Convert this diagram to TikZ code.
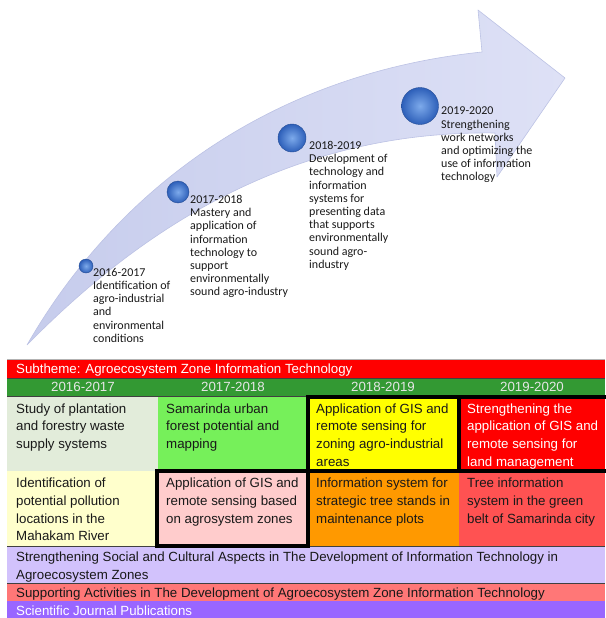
\documentclass[tikz,border=0pt]{standalone}
\usepackage{fontspec}
\setmainfont{Liberation Sans}
\newfontfamily\calfont{Carlito}
\definecolor{arrowL}{RGB}{198,204,236}
\definecolor{arrowR}{RGB}{222,225,246}
\definecolor{arrowE}{RGB}{188,194,228}
\definecolor{ballin}{RGB}{125,170,235}
\definecolor{ballout}{RGB}{45,95,185}
\definecolor{subred}{RGB}{255,0,0}
\definecolor{hdrgreen}{RGB}{51,153,51}
\definecolor{hdrtext}{RGB}{230,230,230}
\definecolor{cA}{RGB}{226,236,218}
\definecolor{cB}{RGB}{118,240,90}
\definecolor{cC}{RGB}{255,255,0}
\definecolor{cD}{RGB}{255,0,0}
\definecolor{cE}{RGB}{255,255,204}
\definecolor{cF}{RGB}{255,204,204}
\definecolor{cG}{RGB}{255,153,0}
\definecolor{cH}{RGB}{255,82,82}
\definecolor{lav}{RGB}{210,194,252}
\definecolor{salmon}{RGB}{255,119,119}
\definecolor{purp}{RGB}{153,102,255}
\definecolor{txt}{RGB}{25,25,25}
\begin{document}
\begin{tikzpicture}[x=1pt,y=-1pt,
  lbl/.style={anchor=north west, inner sep=0pt, align=left, text=txt,
    font=\calfont\fontsize{12}{13.2}\selectfont},
  cell/.style={anchor=north west, inner sep=0pt, align=left, text=txt,
    font=\fontsize{13.3}{17.6}\selectfont},
  hdr/.style={anchor=base, inner sep=0pt, text=hdrtext,
    font=\fontsize{13.3}{17.6}\selectfont},
  bar/.style={anchor=base west, inner sep=0pt, text=txt,
    font=\fontsize{13.3}{17.6}\selectfont},
  ballnode/.style={circle, inner sep=0pt, inner color=ballin, outer color=ballout,
    draw=ballout!80!black, line width=0.4pt},
  thickb/.style={draw=black, line width=3.2pt},
  thinl/.style={draw=black!75, line width=0.8pt}
]
\useasboundingbox (0,0) rectangle (605,618);

% ---- curved arrow ----
\path[left color=arrowL, right color=arrowR, draw=arrowE, line width=0.6pt, line join=round]
  (27,345) .. controls (110,200) and (260,75) .. (482,52)
  -- (478,10) -- (565,78) -- (497,177) -- (495,133)
  .. controls (290,130) and (140,230) .. (27,345) -- cycle;

% ---- balls ----
\node[ballnode, minimum size=14pt] (b1) at (86,266) {};
\node[ballnode, minimum size=22pt] (b2) at (178,192) {};
\node[ballnode, minimum size=28pt] (b3) at (292,138) {};
\node[ballnode, minimum size=37pt] (b4) at (420,106) {};

% ---- timeline labels ----
\node[lbl] (t1) at (93,268) {2016-2017\\Identification of\\agro-industrial\\and\\environmental\\conditions};
\node[lbl] (t2) at (190,195) {2017-2018\\Mastery and\\application of\\information\\technology to\\support\\environmentally\\sound agro-industry};
\node[lbl] (t3) at (309,141) {2018-2019\\Development of\\technology and\\information\\systems for\\presenting data\\that supports\\environmentally\\sound agro-\\industry};
\node[lbl] (t4) at (441,107) {2019-2020\\Strengthening\\work networks\\and optimizing the\\use of information\\technology};

% ---- table ----
\draw[draw=black!30, line width=0.8pt] (7,359) -- (605,359);
\fill[subred] (7,360) rectangle (605,378);
\fill[hdrgreen] (7,378) rectangle (605,397);
\fill[cA] (7,397) rectangle (158,471);
\fill[cB] (158,397) rectangle (308,471);
\fill[cC] (308,397) rectangle (459,471);
\fill[cD] (459,397) rectangle (605,471);
\fill[cE] (7,471) rectangle (158,546);
\fill[cF] (158,471) rectangle (308,546);
\fill[cG] (308,471) rectangle (459,546);
\fill[cH] (459,471) rectangle (605,546);
\fill[lav] (7,546) rectangle (605,583);
\fill[salmon] (7,583) rectangle (605,601);
\fill[purp] (7,601) rectangle (605,618);

\draw[thinl] (7,378) -- (605,378);
\draw[thinl] (7,396.5) -- (605,396.5);
\draw[thinl] (7,546) -- (605,546);
\draw[thinl] (7,583.5) -- (605,583.5);

\draw[thickb] (308,397) rectangle (459,471);
\draw[thickb] (459,397) rectangle (608,471);
\draw[thickb] (157,471) rectangle (308,546);

\node[bar, text=white] (sub) at (16,373.7) {Subtheme: Agroecosystem Zone Information Technology};
\node[hdr] (h1) at (83,391.7) {2016-2017};
\node[hdr] (h2) at (233,391.7) {2017-2018};
\node[hdr] (h3) at (383,391.7) {2018-2019};
\node[hdr] (h4) at (532,391.7) {2019-2020};

\node[cell] (r1c1) at (16,403.5) {Study of plantation\\and forestry waste\\supply systems};
\node[cell] (r1c2) at (166,403.5) {Samarinda urban\\forest potential and\\mapping};
\node[cell] (r1c3) at (316,403.5) {Application of GIS and\\remote sensing for\\zoning agro-industrial\\areas};
\node[cell, text=white] (r1c4) at (467,403.5) {Strengthening the\\application of GIS and\\remote sensing for\\land management};
\node[cell] (r2c1) at (16,478) {Identification of\\potential pollution\\locations in the\\Mahakam River};
\node[cell] (r2c2) at (166,478) {Application of GIS and\\remote sensing based\\on agrosystem zones};
\node[cell] (r2c3) at (316,478) {Information system for\\strategic tree stands in\\maintenance plots};
\node[cell] (r2c4) at (467,478) {Tree information\\system in the green\\belt of Samarinda city};

\node[cell] (soc) at (16,552) {Strengthening Social and Cultural Aspects in The Development of Information Technology in\\Agroecosystem Zones};
\node[bar] (sup) at (16,597) {Supporting Activities in The Development of Agroecosystem Zone Information Technology};
\node[bar, text=white] (pub) at (16,615.5) {Scientific Journal Publications};
\end{tikzpicture}
\end{document}
